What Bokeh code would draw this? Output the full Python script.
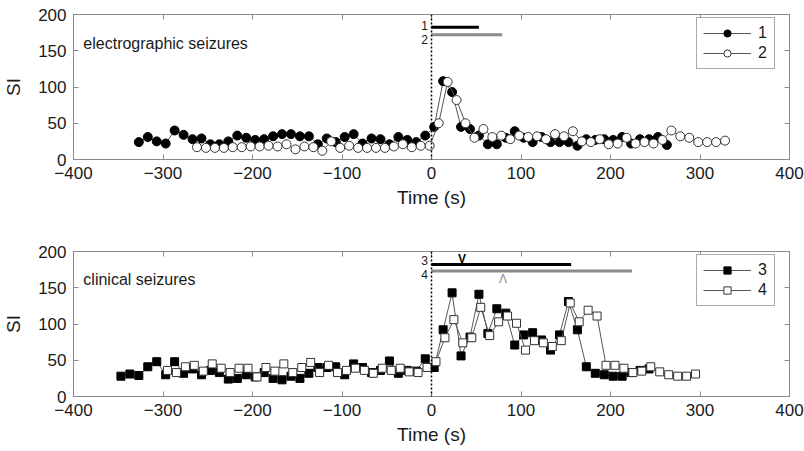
from bokeh.plotting import figure
from bokeh.layouts import column
from bokeh.models import Span, Label, LinearAxis, FixedTicker, Range1d, Legend, LegendItem
from bokeh.embed import file_html
from bokeh.resources import INLINE
from bokeh.core.properties import value

FONT = "Liberation Sans"

# ---------------- data ----------------
t1 = [-327, -317, -307, -297, -287, -277, -267, -257, -247, -237, -227, -217, -207, -197, -187,
      -177, -167, -157, -147, -137, -127, -117, -107, -97, -87, -77, -67, -57, -47, -37, -27, -17,
      -7, 3, 13, 23, 33, 43, 53, 63, 73, 83, 93, 103, 113, 123, 133, 143, 153, 163, 173, 183, 193,
      203, 213, 223, 233, 243, 253, 263]
si1 = [24, 31, 25, 22, 40, 34, 28, 29, 21, 21, 25, 33, 30, 27, 28, 32, 35, 35, 32, 32, 21, 29, 24,
       31, 35, 22, 29, 28, 21, 31, 27, 24, 33, 45,
       108, 93, 45, 42, 33, 21, 21, 30, 39, 30, 24, 31, 24, 24, 24, 19, 28, 27, 28, 27, 31, 22, 28,
       28, 31, 20]

t2 = [-262, -252, -242, -232, -222, -212, -202, -192, -182, -172, -162, -152, -142, -132, -122,
      -112, -102, -92, -82, -72, -62, -52, -42, -32, -22, -12, -2, 8, 18, 28, 38, 48, 58, 68, 78,
      88, 98, 108, 118, 128, 138, 148, 158, 168, 178, 188, 198, 208, 218, 228, 238, 248, 258, 268,
      278, 288, 298, 308, 318, 328]
si2 = [17, 16, 16, 16, 17, 17, 18, 18, 19, 18, 21, 14, 18, 17, 12, 25, 16, 19, 16, 16, 16, 16, 18,
       21, 17, 19, 19,
       50, 107, 82, 50, 30, 42, 31, 33, 28, 33, 31, 32, 28, 35, 32, 39, 25, 24, 28, 21, 22, 30, 22,
       24, 22, 27, 40, 32, 30, 24, 24, 24, 26]

t3 = [-347, -337, -327, -317, -307, -297, -287, -277, -267, -257, -247, -237, -227, -217, -207,
      -197, -187, -177, -167, -157, -147, -137, -127, -117, -107, -97, -87, -77, -67, -57, -47, -37,
      -27, -17, -7, 3, 13, 23, 33, 43, 53, 63, 73, 83, 93, 103, 113, 123, 133, 143, 153, 163, 173,
      183, 193, 203, 213, 223, 233, 243]
si3 = [28, 31, 29, 41, 48, 30, 48, 32, 38, 30, 36, 33, 24, 25, 30, 27, 33, 25, 23, 28, 25, 32, 40,
       40, 41, 30, 45, 40, 33, 36, 49, 32, 36, 35, 52, 40,
       92, 143, 56, 82, 141, 87, 121, 115, 71, 85, 88, 78, 64, 85, 131, 92, 41, 32, 30, 28, 28, 33,
       36, 38]

t4 = [-295, -285, -275, -265, -255, -245, -235, -225, -215, -205, -195, -185, -175, -165, -155,
      -145, -135, -125, -115, -105, -95, -85, -75, -65, -55, -45, -35, -25, -15, -5, 5, 15, 25, 35,
      45, 55, 65, 75, 85, 95, 105, 115, 125, 135, 145, 155, 165, 175, 185, 195, 205, 215, 225, 235,
      245, 255, 265, 275, 285, 295]
si4 = [36, 33, 41, 43, 35, 45, 39, 33, 39, 39, 27, 40, 35, 45, 33, 40, 47, 33, 43, 33, 36, 39, 36,
       32, 39, 36, 39, 34, 33, 40, 48,
       81, 106, 74, 81, 123, 84, 103, 111, 101, 64, 77, 74, 69, 77, 129, 103, 119, 111, 43, 43, 39,
       33, 35, 41, 34, 30, 28, 28, 31]

# seizure duration bars (s) and their labels
top_bar_ends = [53, 79]
top_bar_labels = ["1", "2"]
bot_bar_ends = [156, 224]
bot_bar_labels = ["3", "4"]

x_ticks = [-400, -300, -200, -100, 0, 100, 200, 300, 400]
y_ticks = [0, 50, 100, 150, 200]

FRAME = "#8a8a8a"
TXT = "#1a1a1a"


def style_axes(p):
    bottom = p.below[0]
    left = p.left[0]
    bottom.ticker = FixedTicker(ticks=x_ticks)
    left.ticker = FixedTicker(ticks=y_ticks)
    top = LinearAxis(ticker=FixedTicker(ticks=x_ticks),
                     major_label_overrides={t: "" for t in x_ticks})
    right = LinearAxis(ticker=FixedTicker(ticks=y_ticks),
                       major_label_overrides={t: "" for t in y_ticks})
    p.add_layout(top, "above")
    p.add_layout(right, "right")
    for ax in (bottom, left, top, right):
        ax.axis_line_color = FRAME
        ax.major_tick_line_color = FRAME
        ax.major_tick_in = 5
        ax.major_tick_out = 0
        ax.minor_tick_line_color = None
        ax.major_label_text_font = FONT
        ax.major_label_text_font_size = "17px"
        ax.major_label_text_color = TXT
        ax.axis_label_text_font = FONT
        ax.axis_label_text_font_style = "normal"
        ax.axis_label_text_color = TXT
    for ax in (top, right):
        ax.major_label_standoff = 0
    bottom.major_label_standoff = 7
    left.major_label_standoff = 7
    bottom.axis_label = "Time (s)"
    bottom.axis_label_text_font_size = "19px"
    bottom.axis_label_standoff = 5
    left.axis_label = "SI"
    left.axis_label_text_font_size = "19px"
    left.axis_label_standoff = 11
    p.xgrid.grid_line_color = None
    p.ygrid.grid_line_color = None
    p.outline_line_color = FRAME


def make_fig(height, top_border, bottom_border):
    p = figure(width=804, height=height, x_range=Range1d(-400, 400), y_range=Range1d(0, 200),
               output_backend="svg", toolbar_location=None,
               min_border_left=73, min_border_right=15,
               min_border_top=top_border, min_border_bottom=bottom_border)
    style_axes(p)
    p.add_layout(Span(location=0, dimension="height", line_color="black",
                      line_dash="2 2", line_width=1.5))
    return p


def add_legend(p, items):
    leg = Legend(items=items, location=(623, 90))
    leg.border_line_color = "#555555"
    leg.border_line_width = 1
    leg.background_fill_color = "white"
    leg.background_fill_alpha = 1
    leg.label_text_font = FONT
    leg.label_text_font_size = "16px"
    leg.label_text_color = TXT
    leg.glyph_width = 48
    leg.glyph_height = 18
    leg.label_height = 18
    leg.label_width = 10
    leg.label_standoff = 7
    leg.spacing = 2
    leg.padding = 6
    leg.margin = 0
    p.add_layout(leg)


LINE = "#555555"

# ---------------- top: electrographic ----------------
p1 = make_fig(225, 14, 66)
l1 = p1.line(t1, si1, line_color=LINE, line_width=1)
m1 = p1.scatter(t1, si1, marker="circle", size=9, fill_color="black", line_color="black")
l2 = p1.line(t2, si2, line_color=LINE, line_width=1)
m2 = p1.scatter(t2, si2, marker="circle", size=9, fill_color="white", line_color="#333333",
                line_width=1)
p1.segment(x0=[0, 0], y0=[182.5, 172], x1=top_bar_ends, y1=[182.5, 172],
           line_color=["black", "#8c8c8c"], line_width=3)
p1.text(x=[-4, -4], y=[185, 166], text=top_bar_labels, text_align="right",
        text_baseline="middle", text_font=value(FONT), text_font_size="12px", text_color=TXT)
p1.add_layout(Label(x=-389, y=160, text="electrographic seizures", text_font=FONT,
                    text_font_size="16px", text_color=TXT, text_baseline="alphabetic"))
add_legend(p1, [LegendItem(label="1", renderers=[l1, m1]),
                LegendItem(label="2", renderers=[l2, m2])])

# ---------------- bottom: clinical ----------------
p2 = make_fig(226, 26, 55)
l3 = p2.line(t3, si3, line_color=LINE, line_width=1)
m3 = p2.scatter(t3, si3, marker="square", size=8, fill_color="black", line_color="black")
l4 = p2.line(t4, si4, line_color=LINE, line_width=1)
m4 = p2.scatter(t4, si4, marker="square", size=8, fill_color="white", line_color="#333333",
                line_width=1)
p2.segment(x0=[0, 0], y0=[182, 173], x1=bot_bar_ends, y1=[182, 173],
           line_color=["black", "#8c8c8c"], line_width=3)
p2.text(x=[-4, -4], y=[188, 168], text=bot_bar_labels, text_align="right",
        text_baseline="middle", text_font=value(FONT), text_font_size="12px", text_color=TXT)
p2.text(x=[34], y=[189], text=["V"], text_align="center", text_baseline="middle",
        text_font=value(FONT), text_font_size="12px", text_font_style="bold", text_color="black")
p2.text(x=[80], y=[162], text=["Λ"], text_align="center", text_baseline="middle",
        text_font=value(FONT), text_font_size="12px", text_color="#8c8c8c")
p2.add_layout(Label(x=-389, y=162, text="clinical seizures", text_font=FONT,
                    text_font_size="16px", text_color=TXT, text_baseline="alphabetic"))
add_legend(p2, [LegendItem(label="3", renderers=[l3, m3]),
                LegendItem(label="4", renderers=[l4, m4])])

layout = column(p1, p2, spacing=0)
open("out.html", "w").write(file_html(layout, INLINE))
